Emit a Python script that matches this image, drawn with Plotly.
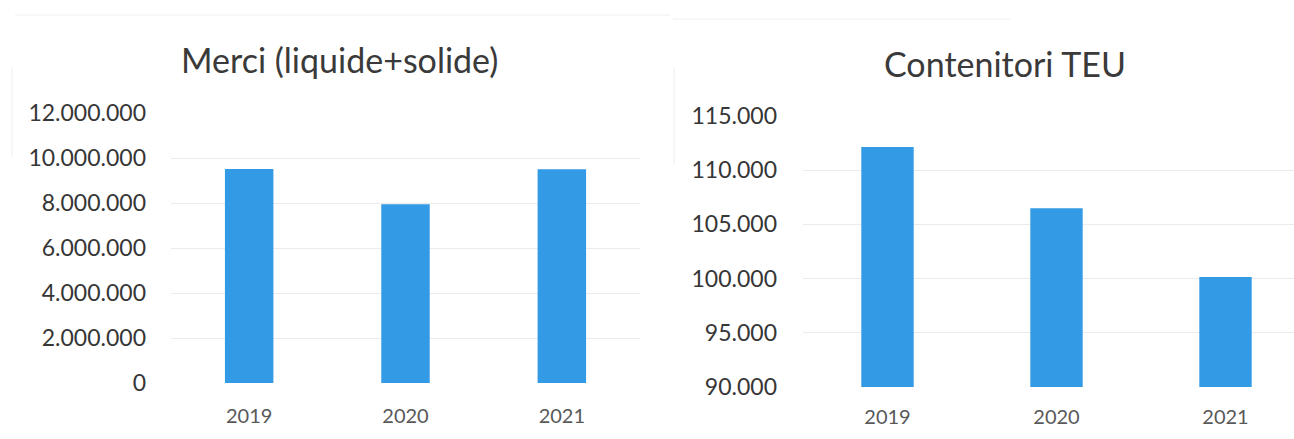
import plotly.graph_objects as go

# Data
years = ["2019", "2020", "2021"]
merci_tonnes = [9510000, 7950000, 9500000]      # Merci (liquide+solide)
teu_containers = [112150, 106500, 100150]       # Contenitori TEU

merci_ticks = [0, 2000000, 4000000, 6000000, 8000000, 10000000, 12000000]
teu_ticks = [90000, 95000, 100000, 105000, 110000, 115000]

W, H = 1294, 439
BAR = "#339ae6"
GRID = "#ebebeb"
FONT = "Lato"

def px_x(x):
    return x / W

def px_y(y):
    return 1 - y / H

fig = go.Figure()

fig.add_trace(go.Bar(x=years, y=merci_tonnes, marker_color=BAR,
                     marker_line_width=0, xaxis="x", yaxis="y",
                     hoverinfo="x+y"))
fig.add_trace(go.Bar(x=years, y=teu_containers, marker_color=BAR,
                     marker_line_width=0, xaxis="x2", yaxis="y2",
                     base=0, hoverinfo="x+y"))

ytick_font = dict(family=FONT, size=23, color="#363636")
xtick_font = dict(family=FONT, size=20, color="#595959")

fig.update_layout(
    width=W, height=H,
    autosize=False,
    margin=dict(l=0, r=0, t=0, b=0, pad=0, autoexpand=False),
    paper_bgcolor="white", plot_bgcolor="white",
    showlegend=False,
    separators=",.",
    bargap=0.69,
    xaxis=dict(domain=[px_x(171), px_x(640)], type="category",
               range=[-0.5, 2.5], showgrid=False, showline=False,
               zeroline=False, ticks="", tickfont=xtick_font,
               ticklabelstandoff=19, anchor="y", automargin=False),
    yaxis=dict(domain=[px_y(383), px_y(113)], range=[0, 12000000],
               tickvals=merci_ticks, tickformat=",d",
               showgrid=True, gridcolor=GRID, gridwidth=1,
               zeroline=False, showline=False, ticks="",
               tickfont=ytick_font, ticklabelstandoff=24, anchor="x",
               automargin=False),
    xaxis2=dict(domain=[px_x(803), 1.0], type="category",
                range=[-0.5, -0.5 + (W - 803) / 169.0],
                showgrid=False, showline=False, zeroline=False, ticks="",
                tickfont=xtick_font, ticklabelstandoff=16, anchor="y2",
                automargin=False),
    yaxis2=dict(domain=[px_y(387), px_y(116)], range=[90000, 115000],
                tickvals=teu_ticks, tickformat=",d",
                showgrid=True, gridcolor=GRID, gridwidth=1,
                zeroline=False, showline=False, ticks="",
                tickfont=ytick_font, ticklabelstandoff=25, anchor="x2",
                automargin=False),
)

title_font = dict(family=FONT, size=34, color="#3a3a3a")
fig.add_annotation(text="Merci (liquide+solide)", x=px_x(339), y=px_y(60),
                   xref="paper", yref="paper", showarrow=False,
                   xanchor="center", yanchor="middle", font=title_font)
fig.add_annotation(text="Contenitori TEU", x=px_x(1005), y=px_y(64),
                   xref="paper", yref="paper", showarrow=False,
                   xanchor="center", yanchor="middle", font=title_font)

# faint chart-frame edges
frame = dict(color="#efefef", width=1)
fig.add_shape(type="line", xref="paper", yref="paper",
              x0=px_x(15), x1=px_x(670), y0=px_y(15), y1=px_y(15), line=frame)
fig.add_shape(type="line", xref="paper", yref="paper",
              x0=px_x(673), x1=px_x(1010), y0=px_y(19), y1=px_y(19), line=frame)
fig.add_shape(type="line", xref="paper", yref="paper",
              x0=px_x(12), x1=px_x(12), y0=px_y(67), y1=px_y(157), line=frame)
fig.add_shape(type="line", xref="paper", yref="paper",
              x0=px_x(674), x1=px_x(674), y0=px_y(67), y1=px_y(165), line=frame)

fig.write_html("out.html")
